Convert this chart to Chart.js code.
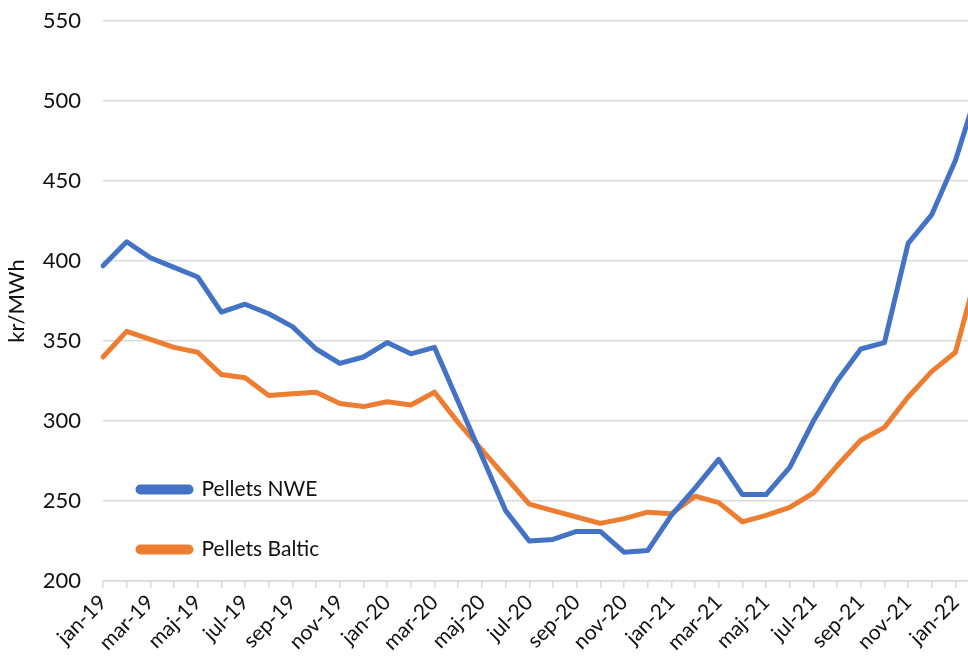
<!DOCTYPE html>
<html>
<head>
<meta charset="utf-8">
<script src="https://cdn.jsdelivr.net/npm/chart.js@4/dist/chart.umd.min.js"></script>
<style>
  html, body { margin: 0; padding: 0; background: #fff; overflow: hidden; width: 968px; height: 661px; }
  #wrap { position: absolute; left: 0; top: 0; width: 999px; height: 661px; }
</style>
</head>
<body>
<div id="wrap"><canvas id="c"></canvas></div>
<script>
const months = ['jan-19','feb-19','mar-19','apr-19','maj-19','jun-19','jul-19','aug-19','sep-19','okt-19','nov-19','dec-19',
                'jan-20','feb-20','mar-20','apr-20','maj-20','jun-20','jul-20','aug-20','sep-20','okt-20','nov-20','dec-20',
                'jan-21','feb-21','mar-21','apr-21','maj-21','jun-21','jul-21','aug-21','sep-21','okt-21','nov-21','dec-21',
                'jan-22','feb-22'];
const pelletsNWE = [397,412,402,396,390,368,373,367,359,345,336,340,
                    349,342,346,312,278,244,225,226,231,231,218,219,
                    241,258,276,254,254,271,300,325,345,349,411,429,
                    463,510];
const pelletsBaltic = [340,356,351,346,343,329,327,316,317,318,311,309,
                       312,310,318,299,282,265,248,244,240,236,239,243,
                       242,253,249,237,241,246,255,272,288,296,315,331,
                       343,398];
const yTicks = [200,250,300,350,400,450,500,550];
const seriesNames = ['Pellets NWE','Pellets Baltic'];

const FONT = 'Lato, "Open Sans", sans-serif';
const GRID = '#d9d9d9';

const legendShift = {
  id: 'legendShift',
  afterLayout(chart) {
    const l = chart.legend;
    if (!l) return;
    const dx = -4, dy = 39;
    l.left += dx; l.right += dx; l.top += dy; l.bottom += dy;
  }
};

new Chart(document.getElementById('c'), {
  type: 'line',
  data: {
    labels: months,
    datasets: [
      { label: seriesNames[0], data: pelletsNWE, borderColor: '#4472C4', backgroundColor: '#4472C4',
        borderWidth: 5, pointRadius: 0, tension: 0, borderJoinStyle: 'round', borderCapStyle: 'round' },
      { label: seriesNames[1], data: pelletsBaltic, borderColor: '#ED7D31', backgroundColor: '#ED7D31',
        borderWidth: 5, pointRadius: 0, tension: 0, borderJoinStyle: 'round', borderCapStyle: 'round' }
    ]
  },
  options: {
    responsive: true,
    maintainAspectRatio: false,
    animation: false,
    layout: { padding: { left: 0, right: 3.5, top: 21, bottom: 0 } },
    plugins: {
      tooltip: { enabled: false },
      legend: {
        position: 'chartArea',
        align: 'end',
        labels: {
          boxWidth: 53, boxHeight: 5, padding: 39,
          useBorderRadius: true, borderRadius: 2.5,
          color: '#111', font: { family: FONT, size: 21 }
        }
      }
    },
    scales: {
      x: {
        type: 'category',
        offset: false,
        grid: { display: true, drawOnChartArea: false, drawTicks: true, tickLength: 7, color: GRID, lineWidth: 1.5 },
        border: { display: true, color: GRID, width: 1.5 },
        ticks: {
          autoSkip: false, maxRotation: 45, minRotation: 45, padding: 2,
          color: '#111', font: { family: FONT, size: 21 },
          callback: function(v, i) { return (i % 2 === 0 && i <= 36) ? months[i] : ''; }
        },
        afterFit: function(s) { s.height = 80; }
      },
      y: {
        min: 200, max: 550,
        afterBuildTicks: function(s) { s.ticks = yTicks.map(v => ({ value: v })); },
        grid: { drawTicks: false, color: GRID, lineWidth: 1.5 },
        border: { display: false },
        ticks: { padding: 22, color: '#111', font: { family: FONT, size: 22 } },
        title: { display: true, text: 'kr/MWh', color: '#111', font: { family: FONT, size: 22 }, padding: { top: 4, bottom: 0 } },
        afterFit: function(s) { s.width = 103; s.paddingTop = 0; s.paddingBottom = 0; }
      }
    }
  },
  plugins: [legendShift]
});
</script>
</body>
</html>
